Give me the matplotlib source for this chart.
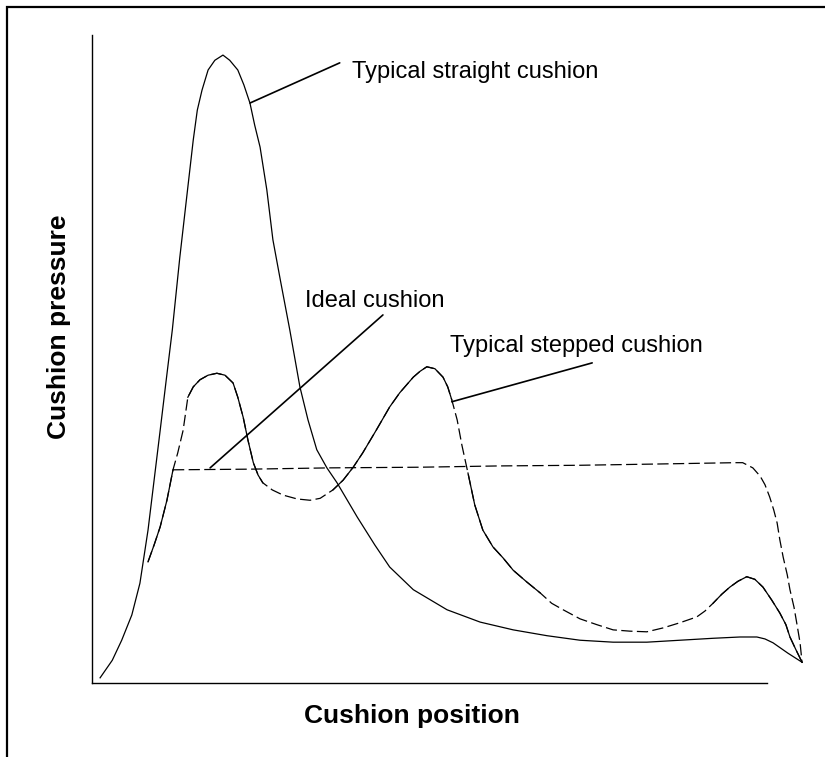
import numpy as np
import matplotlib.pyplot as plt
from matplotlib.patches import Rectangle

plt.rcParams['font.family'] = ['Liberation Sans', 'DejaVu Sans']

# typical straight cushion (solid)
straight_x = [1.2, 3.0, 4.4, 5.9, 7.1, 8.3, 9.2, 10.1, 11.0, 11.9, 13.0, 13.9, 15.0, 15.6, 16.3,
              17.2, 18.2, 19.4, 20.4, 21.6, 22.5, 23.4, 24.1, 24.9, 25.9, 26.8, 27.9, 29.3, 30.8, 32.0,
              33.3, 34.8, 36.3, 39.3, 41.9, 44.1, 47.6, 52.6, 57.5, 62.4, 67.4, 72.3, 77.2, 82.2, 87.1,
              92.0, 96.0, 98.5, 99.7, 100.9, 103.1, 105.2]
straight_y = [0.8, 3.5, 6.6, 10.5, 15.4, 23.6, 31.3, 39.0, 46.8, 54.5, 65.6, 73.8, 83.8, 88.4, 91.5,
              94.6, 96.1, 96.9, 96.1, 94.6, 92.3, 89.5, 86.1, 82.7, 76.1, 68.4, 62.2, 54.5, 45.7, 40.6,
              36.0, 33.2, 30.9, 25.6, 21.3, 17.9, 14.4, 11.3, 9.4, 8.2, 7.3, 6.6, 6.3, 6.3, 6.6,
              6.9, 7.1, 7.1, 6.8, 6.2, 4.6, 3.2]

# typical stepped cushion (partly solid, partly dashed)
stepped_x = [8.3, 9.2, 10.1, 11.1, 12.0, 12.7, 13.5, 14.2, 15.0, 16.0, 17.2, 18.5, 19.7, 20.9, 21.6,
             22.4, 23.1, 23.9, 24.6, 25.3, 26.7, 28.3, 30.4, 32.3, 33.8, 35.7, 37.2, 38.7, 40.1, 42.1,
             44.1, 45.6, 47.6, 48.6, 49.6, 50.8, 52.0, 52.7, 53.3, 54.1, 54.8, 55.7, 56.7, 57.9, 59.4,
             60.9, 62.4, 64.4, 66.4, 68.1, 69.8, 72.3, 74.8, 77.2, 79.7, 82.2, 84.6, 87.1, 89.6, 90.8,
             92.0, 93.3, 94.5, 95.7, 97.0, 98.2, 99.4, 100.7, 101.9, 102.8, 103.4, 104.3, 105.2]
stepped_y = [18.7, 21.3, 24.1, 28.2, 32.9, 35.5, 39.0, 44.1, 45.7, 46.8, 47.5, 47.8, 47.5, 46.3, 44.1,
             41.0, 37.5, 34.0, 32.1, 30.9, 29.8, 29.0, 28.4, 28.2, 28.5, 29.8, 31.3, 33.3, 35.5, 39.0,
             42.6, 44.8, 47.2, 48.1, 48.8, 48.5, 47.2, 45.7, 43.7, 40.6, 36.7, 32.4, 27.5, 23.6, 21.0,
             19.3, 17.4, 15.6, 13.9, 12.3, 11.3, 9.9, 9.0, 8.2, 8.0, 7.9, 8.5, 9.3, 10.2, 11.1,
             12.3, 13.7, 14.8, 15.7, 16.4, 16.0, 14.8, 12.8, 10.8, 9.0, 7.1, 5.1, 3.2]
stepped_solid = [(8.3, 12.0), (14.2, 25.3), (35.7, 53.3), (55.7, 66.4), (92.0, 105.2)]

# ideal cushion (dashed)
ideal_x = [12.0, 23.4, 35.3, 48.6, 60.4, 72.3, 84.1, 95.3, 96.4, 97.9, 99.0, 99.7, 100.4, 101.0,
           101.5, 101.9, 102.4, 103.0, 103.4, 104.0, 104.4, 104.9, 105.2]
ideal_y = [32.9, 33.0, 33.2, 33.3, 33.5, 33.6, 33.8, 34.0, 34.0, 33.2, 31.9, 30.6, 28.7, 26.7,
           24.7, 22.1, 19.4, 16.7, 14.4, 11.7, 9.3, 6.2, 3.1]

fig = plt.figure(figsize=(8.25, 7.57), dpi=100)
ax = fig.add_axes([92 / 825, 74 / 757, 675 / 825, 648 / 757])

lw = 0.9
dash = (0, (9, 3.5))
ax.plot(straight_x, straight_y, color='black', lw=lw, clip_on=False)

sx = np.array(stepped_x)
sy = np.array(stepped_y)
ax.plot(sx, sy, color='black', lw=lw, linestyle=dash, clip_on=False)
for x0, x1 in stepped_solid:
    m = (sx >= x0) & (sx <= x1)
    ax.plot(sx[m], sy[m], color='black', lw=lw, clip_on=False)

ax.plot(ideal_x, ideal_y, color='black', lw=lw, linestyle=dash, clip_on=False)

# leader lines + labels (text anchored at baseline)
leaders = [
    ((23.4, 89.5), (36.7, 95.7), (38.5, 93.4), 'Typical straight cushion'),
    ((17.5, 33.2), (43.1, 56.8), (31.6, 58.0), 'Ideal cushion'),
    ((53.3, 43.4), (74.1, 49.4), (53.0, 51.1), 'Typical stepped cushion'),
]
for xy, end, txt_pos, label in leaders:
    ax.annotate('', xy=xy, xytext=end,
                arrowprops=dict(arrowstyle='-', lw=1.2, color='black', shrinkA=0, shrinkB=0))
    ax.text(txt_pos[0], txt_pos[1], label, fontsize=17, va='baseline', ha='left')

ax.set_xlim(0, 100)
ax.set_ylim(0, 100)
ax.set_xticks([])
ax.set_yticks([])
ax.spines['top'].set_visible(False)
ax.spines['right'].set_visible(False)
ax.spines['left'].set_linewidth(1.0)
ax.spines['bottom'].set_linewidth(1.0)
ax.set_xlabel('Cushion position', fontsize=19, fontweight='bold')
ax.set_ylabel('Cushion pressure', fontsize=19, fontweight='bold')
ax.xaxis.set_label_coords(0.474, -0.033)
ax.yaxis.set_label_coords(-0.031, 0.549)

fig.patches.append(Rectangle((7 / 825, -0.05), 1.0, 1.05 - 7 / 757, transform=fig.transFigure,
                             fill=False, edgecolor='black', lw=1.6))

plt.savefig('out.png', dpi=100)
